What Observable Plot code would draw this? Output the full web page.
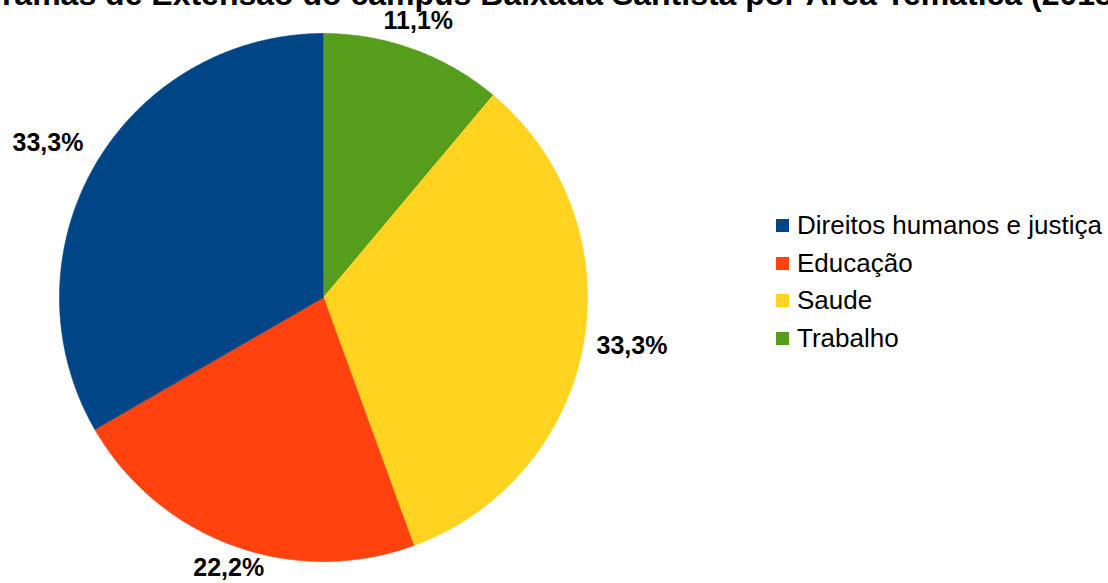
<!DOCTYPE html>
<html>
<head>
<meta charset="utf-8">
<script src="https://cdn.jsdelivr.net/npm/d3@7"></script>
<script src="https://cdn.jsdelivr.net/npm/@observablehq/plot@0.6"></script>
<style>
  html, body { margin: 0; padding: 0; background: #fff; overflow: hidden; }
  #wrap { position: relative; width: 1108px; height: 583px; overflow: hidden; }
  #title { position: absolute; left: -71px; top: -22px; text-align: left; white-space: nowrap;
           font-family: "Liberation Sans", Arial, sans-serif; font-weight: bold; font-size: 32px; line-height: 1; color: #000; }
  #chart { position: absolute; left: 0; top: 0; }
  #legend { position: absolute; left: 776px; top: 207px; }
  .lg-swatches { font-family: "Liberation Sans", Arial, sans-serif; font-size: 26px; color: #000; }
  .lg-swatch { height: 37.5px; margin: 0 !important; padding: 0 !important; }
  .lg-swatch > svg { margin-right: 8px !important; }
</style>
</head>
<body>
<div id="wrap">
  <div id="chart"></div>
  <div id="title"></div>
  <div id="legend"></div>
</div>
<script>
const titleText = "Programas de Extensão do campus Baixada Santista por Área Temática (2018)";
const categories = ["Direitos humanos e justiça", "Educação", "Saude", "Trabalho"];
const counts = [3, 2, 3, 1];
const colors = ["#004586", "#ff420e", "#ffd320", "#579d1c"];

document.getElementById("title").textContent = titleText;

const rows = categories.map((c, i) => ({category: c, value: counts[i]}));
const total = d3.sum(counts);
// drawing order clockwise from 12 o'clock (LibreOffice draws counter-clockwise in legend order)
const ordered = rows.slice().reverse();
const arcs = d3.pie().sort(null).value(d => d.value)(ordered);

const polys = [];
for (const a of arcs) {
  polys.push({category: a.data.category, x: 0, y: 0});
  const n = Math.max(2, Math.ceil((a.endAngle - a.startAngle) / (Math.PI / 360)));
  for (let k = 0; k <= n; k++) {
    const t = a.startAngle + (a.endAngle - a.startAngle) * k / n;
    polys.push({category: a.data.category, x: Math.sin(t), y: Math.cos(t)});
  }
}

const labelR = 1.05;
const labels = arcs.map(a => {
  const m = (a.startAngle + a.endAngle) / 2;
  const s = Math.sin(m), c = Math.cos(m);
  return {
    text: (a.data.value / total * 100).toFixed(1).replace(".", ",") + "%",
    x: s * labelR, y: c * labelR,
    h: s > 0.5 ? "start" : s < -0.5 ? "end" : "middle",
    v: c > 0.45 ? "bottom" : c < -0.45 ? "top" : "middle"
  };
});

const labelFont = '"Liberation Sans", Arial, sans-serif';
const labelMarks = [];
for (const h of ["start", "middle", "end"]) {
  for (const v of ["top", "middle", "bottom"]) {
    const sub = labels.filter(d => d.h === h && d.v === v);
    if (sub.length) labelMarks.push(Plot.text(sub, {
      x: "x", y: "y", text: "text", textAnchor: h, lineAnchor: v,
      dy: v === "bottom" ? -8 : 0,
      fontSize: 25, fontWeight: "bold", fontFamily: labelFont, fill: "#000"
    }));
  }
}

const chart = Plot.plot({
  width: 1108,
  height: 583,
  x: {domain: [-1, 1], range: [59, 587], axis: null},
  y: {domain: [-1, 1], range: [561, 33], axis: null},
  color: {domain: categories, range: colors},
  style: {background: "transparent", overflow: "visible"},
  marks: [
    Plot.line(polys, {x: "x", y: "y", z: "category", fill: "category", stroke: "category", strokeWidth: 0.6, curve: "linear"}),
    ...labelMarks
  ]
});
document.getElementById("chart").appendChild(chart);

const legend = chart.legend("color", {legend: "swatches", columns: 1, swatchSize: 13, className: "lg"});
document.getElementById("legend").appendChild(legend);
</script>
</body>
</html>
